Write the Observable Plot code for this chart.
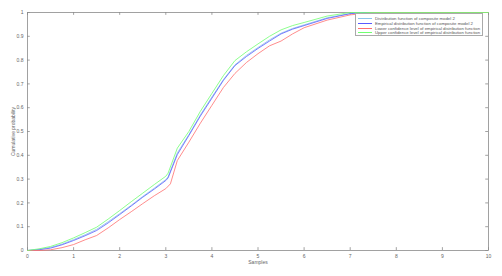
<!DOCTYPE html>
<html>
<head>
<meta charset="utf-8">
<script src="https://cdn.jsdelivr.net/npm/d3@7"></script>
<script src="https://cdn.jsdelivr.net/npm/@observablehq/plot@0.6"></script>
<style>
  html, body { margin: 0; padding: 0; background: #fff; }
  #chart { position: relative; width: 502px; height: 276px; }
  .legend { position: absolute; left: 355px; top: 13px; width: 128px; height: 23px;
    border: 0.8px solid #aaa; background: #fff; font-family: "Liberation Sans", Arial, sans-serif;
    font-size: 4.3px; color: #555; box-sizing: border-box; padding-top: 2.5px; }
  .legend .row { display: flex; align-items: center; height: 4.7px; white-space: nowrap; }
  .legend .sw { width: 14px; height: 0; border-top: 0.8px solid; margin: 0 3px 0 2px; }
</style>
</head>
<body>
<div id="chart"></div>
<script>
// Sample positions (x) and cumulative probabilities
const xModel = [0,0.25,0.5,0.75,1,1.25,1.5,1.75,2,2.25,2.5,2.75,3,3.05,3.25,3.5,3.75,4,4.25,4.5,4.75,5,5.25,5.5,5.75,6,6.5,7,7.3,10];
const yModel = [0,0.005,0.013,0.027,0.046,0.066,0.089,0.121,0.155,0.19,0.227,0.262,0.298,0.31,0.41,0.487,0.57,0.645,0.718,0.78,0.82,0.853,0.885,0.913,0.933,0.948,0.978,0.996,1,1];

const xEmp = [0,0.25,0.5,0.75,1,1.25,1.5,1.75,2,2.25,2.5,2.75,3,3.05,3.25,3.5,3.75,4,4.25,4.5,4.75,5,5.25,5.5,5.75,6,6.5,7,7.3,10];
const yEmp = [0,0.003,0.01,0.024,0.042,0.062,0.084,0.116,0.151,0.187,0.224,0.258,0.294,0.305,0.403,0.483,0.565,0.64,0.715,0.777,0.815,0.849,0.88,0.91,0.93,0.945,0.975,0.995,1,1];

const xLow = [0,0.25,0.5,0.75,1,1.25,1.5,1.75,2,2.25,2.5,2.75,3,3.1,3.25,3.5,3.75,4,4.25,4.5,4.75,5,5.25,5.5,5.75,6,6.5,7,7.5,10];
const yLow = [0,0,0.003,0.012,0.025,0.045,0.063,0.095,0.13,0.163,0.197,0.23,0.26,0.28,0.378,0.455,0.535,0.61,0.685,0.744,0.79,0.827,0.86,0.88,0.91,0.936,0.968,0.99,1,1];

const xUp = [0,0.25,0.5,0.75,1,1.25,1.5,1.75,2,2.25,2.5,2.75,3,3.05,3.25,3.5,3.75,4,4.25,4.5,4.75,5,5.25,5.5,5.75,6,6.5,7,10];
const yUp = [0,0.007,0.017,0.033,0.053,0.075,0.098,0.132,0.168,0.205,0.241,0.277,0.312,0.325,0.43,0.5,0.585,0.66,0.735,0.798,0.835,0.868,0.9,0.927,0.945,0.958,0.985,1,1];

const xTicks = [0,1,2,3,4,5,6,7,8,9,10];
const yTicks = [0,0.1,0.2,0.3,0.4,0.5,0.6,0.7,0.8,0.9,1];
const yTickLabels = ["0","0.1","0.2","0.3","0.4","0.5","0.6","0.7","0.8","0.9","1"];

const seriesNames = [
  "Distribution function of composite model 2",
  "Empirical distribution function of composite model 2",
  "Lower confidence level of empirical distribution function",
  "Upper confidence level of empirical distribution function"
];
const seriesColors = ["#8cc4ea", "#5a5aff", "#ff6f6f", "#70ff70"];

const toRows = (xs, ys) => xs.map((x, i) => ({x, y: ys[i]}));
const sets = [toRows(xModel, yModel), toRows(xEmp, yEmp), toRows(xLow, yLow), toRows(xUp, yUp)];

const axisColor = "#8a8a8a";
const chart = Plot.plot({
  width: 502,
  height: 276,
  marginLeft: 27,
  marginRight: 14,
  marginTop: 12,
  marginBottom: 26,
  style: {fontFamily: "'Liberation Sans', Arial, sans-serif", fontSize: "5px", color: "#555", background: "#fff"},
  x: {domain: [0, 10]},
  y: {domain: [0, 1]},
  marks: [
    Plot.frame({stroke: axisColor, strokeWidth: 0.8}),
    Plot.ruleX(xTicks, {x: d => d, y1: 0, y2: 0.012, stroke: axisColor, strokeWidth: 0.8}),
    Plot.ruleX(xTicks, {x: d => d, y1: 0.988, y2: 1, stroke: axisColor, strokeWidth: 0.8}),
    Plot.ruleY(yTicks, {y: d => d, x1: 0, x2: 0.06, stroke: axisColor, strokeWidth: 0.8}),
    Plot.ruleY(yTicks, {y: d => d, x1: 9.94, x2: 10, stroke: axisColor, strokeWidth: 0.8}),
    Plot.axisX({ticks: xTicks, tickSize: 0, tickPadding: 4, fontSize: 5, fill: "#666",
      label: "Samples", labelAnchor: "center", labelArrow: "none", labelOffset: 13}),
    Plot.axisY({ticks: yTicks, tickFormat: (d, i) => yTickLabels[i], tickSize: 0, tickPadding: 4, fontSize: 5, fill: "#666",
      label: "Cumulative probability", labelAnchor: "center", labelArrow: "none", labelOffset: 16}),
    ...sets.map((rows, i) => Plot.line(rows, {x: "x", y: "y", stroke: seriesColors[i], strokeWidth: 0.8}))
  ]
});
const host = document.getElementById("chart");
host.appendChild(chart);
const legend = document.createElement("div");
legend.className = "legend";
seriesNames.forEach((name, i) => {
  const row = document.createElement("div");
  row.className = "row";
  const sw = document.createElement("span");
  sw.className = "sw";
  sw.style.borderTopColor = seriesColors[i];
  const t = document.createElement("span");
  t.textContent = name;
  row.appendChild(sw); row.appendChild(t);
  legend.appendChild(row);
});
host.appendChild(legend);
</script>
</body>
</html>
